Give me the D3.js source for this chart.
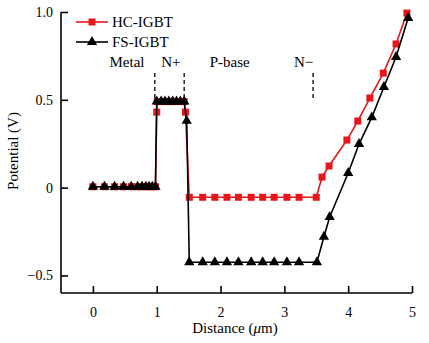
<!DOCTYPE html>
<html>
<head>
<meta charset="utf-8">
<script src="https://cdn.jsdelivr.net/npm/d3@7"></script>
<style>
  body { margin: 0; background: #fff; }
</style>
</head>
<body>
<svg width="429" height="343"></svg>
<script>
// HC-IGBT potential profile (red squares)
var hcX = [0, 0.18, 0.34, 0.48, 0.6, 0.7, 0.77, 0.83, 0.88, 0.93, 0.98,
  1.0, 1.01, 1.07, 1.13, 1.19, 1.25, 1.31, 1.37, 1.43, 1.45,
  1.51, 1.72, 1.91, 2.10, 2.28, 2.48, 2.66, 2.84, 3.04, 3.23, 3.50,
  3.59, 3.70, 3.98, 4.15, 4.34, 4.55, 4.75, 4.92];
var hcY = [0.005, 0.005, 0.005, 0.005, 0.005, 0.005, 0.005, 0.005, 0.005, 0.005, 0.005,
  0.43, 0.49, 0.49, 0.49, 0.49, 0.49, 0.49, 0.49, 0.49, 0.43,
  -0.055, -0.055, -0.055, -0.055, -0.055, -0.055, -0.055, -0.055, -0.055, -0.055, -0.055,
  0.06, 0.123, 0.271, 0.379, 0.51, 0.652, 0.818, 0.994];

// FS-IGBT potential profile (black triangles)
var fsX = [0, 0.18, 0.34, 0.48, 0.6, 0.7, 0.77, 0.83, 0.88, 0.93, 0.98,
  1.0, 1.07, 1.13, 1.19, 1.25, 1.31, 1.37, 1.43, 1.47,
  1.51, 1.72, 1.91, 2.10, 2.28, 2.48, 2.66, 2.84, 3.04, 3.23, 3.51,
  3.62, 3.71, 4.0, 4.17, 4.37, 4.56, 4.75, 4.94];
var fsY = [0.005, 0.005, 0.005, 0.005, 0.005, 0.005, 0.005, 0.005, 0.005, 0.005, 0.005,
  0.49, 0.49, 0.49, 0.49, 0.49, 0.49, 0.49, 0.49, 0.38,
  -0.425, -0.425, -0.425, -0.425, -0.425, -0.425, -0.425, -0.425, -0.425, -0.425, -0.425,
  -0.28, -0.167, 0.083, 0.248, 0.40, 0.573, 0.744, 0.966];

var xTicks = [0, 1, 2, 3, 4, 5];
var yTicks = [-0.5, 0, 0.5, 1.0];
var regionNames = ['Metal', 'N+', 'P-base', 'N\u2212'];
var regionX = [0.26, 1.07, 1.83, 3.15];
var borderX = [0.97, 1.43, 3.45];

var serif = '"Liberation Serif", "Times New Roman", Times, "DejaVu Serif", serif';
var red = '#e8161b';
var svg = d3.select('svg');
var x = d3.scaleLinear().domain([-0.5, 5]).range([61, 412]);
var y = d3.scaleLinear().domain([-0.6, 1.0]).range([293, 12]);

var fmtY = function (d) { return d === 0 ? '0' : d3.format('.1f')(d).replace('-', '\u2212'); };

var xAxis = svg.append('g')
    .attr('transform', 'translate(0,' + y(-0.6) + ')')
    .call(d3.axisBottom(x).tickValues(xTicks).tickSize(-7).tickPadding(14).tickFormat(d3.format('d')));
var yAxis = svg.append('g')
    .attr('transform', 'translate(' + x(-0.5) + ',0)')
    .call(d3.axisLeft(y).tickValues(yTicks).tickSize(-7).tickPadding(8).tickFormat(fmtY));
[xAxis, yAxis].forEach(function (g) {
    g.attr('font-family', null).attr('font-size', null);
    g.select('.domain').attr('stroke', '#000').attr('stroke-width', 1.6);
    g.selectAll('.tick line').attr('stroke', '#000').attr('stroke-width', 1.6);
    g.selectAll('.tick text').style('font-size', '14px');
});
// axis lines without end caps
xAxis.select('.domain').attr('d', 'M' + x(-0.5) + ',0H' + x(5));
yAxis.select('.domain').attr('d', 'M0,' + y(1.0) + 'V' + y(-0.6));

// region border markers
svg.selectAll('.border').data(borderX).enter().append('line')
    .attr('x1', function (d) { return x(d); }).attr('x2', function (d) { return x(d); })
    .attr('y1', y(0.51)).attr('y2', y(0.66))
    .attr('stroke', '#000').attr('stroke-width', 1.3).attr('stroke-dasharray', '4,3');
svg.selectAll('.region').data(regionNames).enter().append('text')
    .attr('x', function (d, i) { return x(regionX[i]); })
    .attr('y', 67)
    .style('font-size', '15px')
    .text(function (d) { return d; });

var hc = hcX.map(function (d, i) { return [d, hcY[i]]; });
var fs = fsX.map(function (d, i) { return [d, fsY[i]]; });
var line = d3.line().x(function (d) { return x(d[0]); }).y(function (d) { return y(d[1]); });
var sq = d3.symbol().type(d3.symbolSquare).size(49);
var tri = d3.symbol().type(d3.symbolTriangle).size(46);

function drawSeries(data, color, sym) {
    svg.append('path').datum(data).attr('d', line)
        .attr('fill', 'none').attr('stroke', color).attr('stroke-width', 1.6);
    svg.append('g').selectAll('path').data(data).enter().append('path')
        .attr('d', sym)
        .attr('transform', function (d) { return 'translate(' + x(d[0]) + ',' + y(d[1]) + ')'; })
        .attr('fill', color);
}
drawSeries(hc, red, sq);
drawSeries(fs, '#000', tri);

// legend
var legend = [['HC-IGBT', red, sq], ['FS-IGBT', '#000', tri]];
legend.forEach(function (l, i) {
    var ly = 22 + i * 20;
    svg.append('line').attr('x1', 76).attr('x2', 108).attr('y1', ly).attr('y2', ly)
        .attr('stroke', l[1]).attr('stroke-width', 1.6);
    svg.append('path').attr('d', l[2]).attr('transform', 'translate(92,' + ly + ')').attr('fill', l[1]);
    svg.append('text').attr('x', 112).attr('y', ly + 5).style('font-size', '15px').text(l[0]);
});

// axis titles
var xt = svg.append('text').attr('x', 235).attr('y', 333).attr('text-anchor', 'middle').style('font-size', '15px');
xt.append('tspan').text('Distance (');
xt.append('tspan').style('font-style', 'italic').text('\u03bc');
xt.append('tspan').text('m)');
svg.append('text').attr('transform', 'translate(18,151) rotate(-90)')
    .attr('text-anchor', 'middle').style('font-size', '15px').text('Potential (V)');

svg.selectAll('text').style('font-family', serif).attr('fill', '#000');
</script>
</body>
</html>
